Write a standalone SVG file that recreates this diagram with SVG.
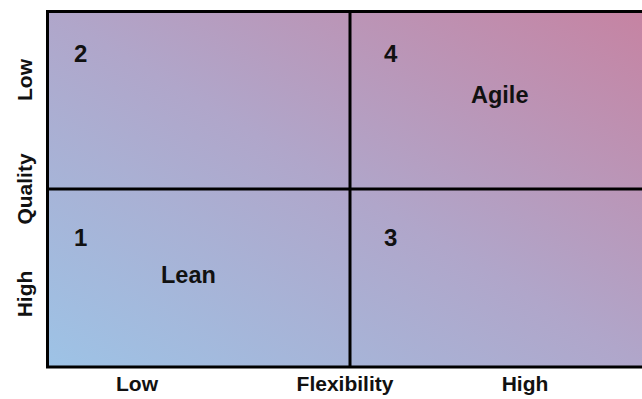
<svg xmlns="http://www.w3.org/2000/svg" width="642" height="399" viewBox="0 0 642 399">
<defs>
<linearGradient id="bg" x1="0" y1="1" x2="1" y2="0">
<stop offset="0" stop-color="#9DC3E6"/>
<stop offset="0.5" stop-color="#B0A6CA"/>
<stop offset="1" stop-color="#C683A2"/>
</linearGradient>
<style>
text{font-family:"Liberation Sans",Arial,sans-serif;font-weight:bold;fill:#111;}
.n{font-size:24px;}
.l{font-size:23.5px;}
.a{font-size:21px;text-anchor:middle;}
.g{stroke:#000;stroke-width:3;fill:none;}
.bg{fill:url(#bg);stroke:#000;stroke-width:3;}
</style>
</defs>
<rect class="bg" x="47.5" y="11.5" width="600" height="355.5"/>
<g id="connectors">
<line class="g" x1="350" y1="11" x2="350" y2="367"/>
<line class="g" x1="47" y1="189" x2="642" y2="189"/>
</g>
<g id="q2"><text class="n" x="74" y="62">2</text></g>
<g id="q4"><text class="n" x="384" y="62">4</text><text class="l" x="471" y="103">Agile</text></g>
<g id="q1"><text class="n" x="74" y="246">1</text><text class="l" x="161" y="283">Lean</text></g>
<g id="q3"><text class="n" x="384" y="246">3</text></g>
<g id="xaxis">
<text class="a" x="137" y="391">Low</text>
<text class="a" x="345" y="391">Flexibility</text>
<text class="a" x="525" y="391">High</text>
</g>
<g id="yaxis">
<text class="a" transform="translate(32,80) rotate(-90)">Low</text>
<text class="a" transform="translate(32,189) rotate(-90)">Quality</text>
<text class="a" transform="translate(32,294) rotate(-90)">High</text>
</g>
</svg>
